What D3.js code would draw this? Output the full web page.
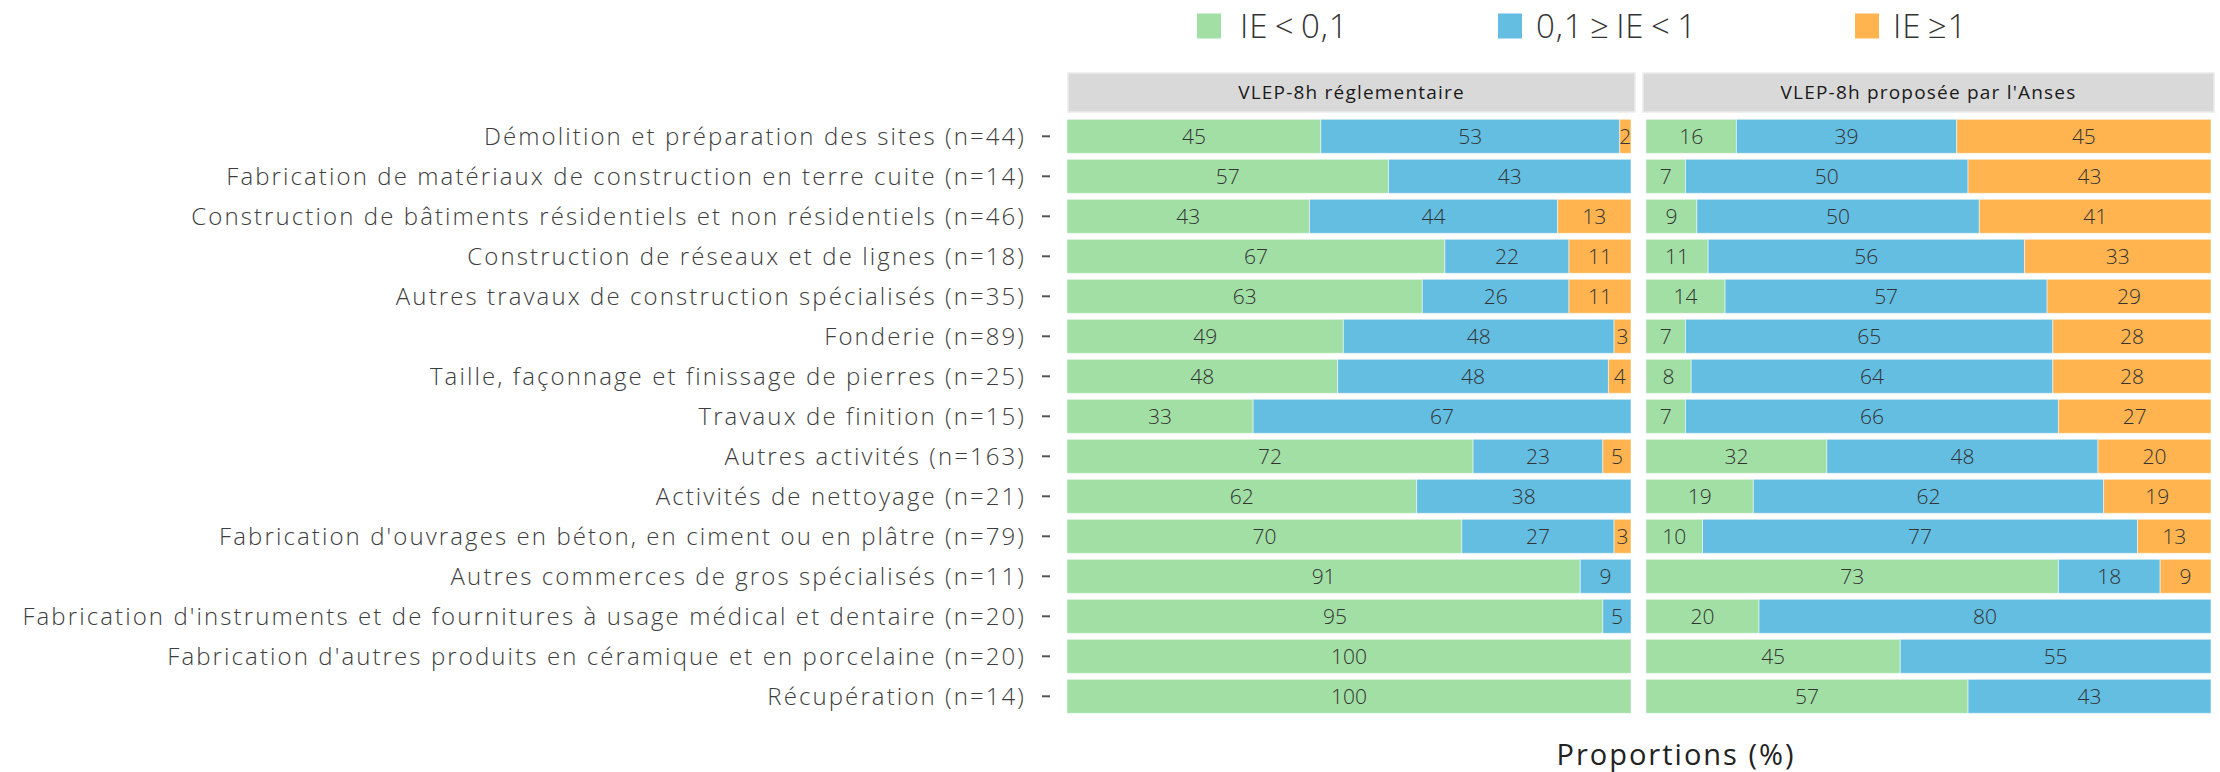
<!DOCTYPE html>
<html>
<head>
<meta charset="utf-8">
<script src="https://cdn.jsdelivr.net/npm/d3@7/dist/d3.min.js"></script>
<style>
  html, body { margin: 0; padding: 0; background: #ffffff; }
  svg { display: block; }
  text { font-family: "Open Sans", "Noto Sans", sans-serif; }
</style>
</head>
<body>
<svg id="chart" width="2220" height="772"></svg>
<script>
// ---- Data ----
const categories = [
  "Démolition et préparation des sites (n=44)",
  "Fabrication de matériaux de construction en terre cuite (n=14)",
  "Construction de bâtiments résidentiels et non résidentiels (n=46)",
  "Construction de réseaux et de lignes (n=18)",
  "Autres travaux de construction spécialisés (n=35)",
  "Fonderie (n=89)",
  "Taille, façonnage et finissage de pierres (n=25)",
  "Travaux de finition (n=15)",
  "Autres activités (n=163)",
  "Activités de nettoyage (n=21)",
  "Fabrication d'ouvrages en béton, en ciment ou en plâtre (n=79)",
  "Autres commerces de gros spécialisés (n=11)",
  "Fabrication d'instruments et de fournitures à usage médical et dentaire (n=20)",
  "Fabrication d'autres produits en céramique et en porcelaine (n=20)",
  "Récupération (n=14)"
];
const seriesNames = ["IE < 0,1", "0,1 ≥ IE < 1", "IE ≥1"];
const panelNames = ["VLEP-8h réglementaire", "VLEP-8h proposée par l'Anses"];

// Réglementaire: [IE<0.1, 0.1≥IE<1, IE≥1]
const lowReg  = [45, 57, 43, 67, 63, 49, 48, 33, 72, 62, 70, 91, 95, 100, 100];
const midReg  = [53, 43, 44, 22, 26, 48, 48, 67, 23, 38, 27,  9,  5,   0,   0];
const highReg = [ 2,  0, 13, 11, 11,  3,  4,  0,  5,  0,  3,  0,  0,   0,   0];
// Proposée par l'Anses
const lowAns  = [16,  7,  9, 11, 14,  7,  8,  7, 32, 19, 10, 73, 20, 45, 57];
const midAns  = [39, 50, 50, 56, 57, 65, 64, 66, 48, 62, 77, 18, 80, 55, 43];
const highAns = [45, 43, 41, 33, 29, 28, 28, 27, 20, 19, 13,  9,  0,  0,  0];

const xTitle = "Proportions (%)";

// ---- Styles ----
const colors = ["#a1dfa5", "#63bee2", "#ffb450"];

const svg = d3.select("#chart");

const y = d3.scaleBand()
  .domain(categories)
  .range([116.3, 716.3])
  .paddingInner(0.15)
  .paddingOuter(0.075);

const panels = [
  { name: panelNames[0], data: [lowReg, midReg, highReg], x: d3.scaleLinear().domain([0, 100]).range([1067, 1631]), strip: [1068, 1635] },
  { name: panelNames[1], data: [lowAns, midAns, highAns], x: d3.scaleLinear().domain([0, 100]).range([1646, 2211]), strip: [1643, 2214] }
];

const stack = d3.stack().keys([0, 1, 2]);

panels.forEach(p => {
  const rows = categories.map((c, i) => ({ cat: c, 0: p.data[0][i], 1: p.data[1][i], 2: p.data[2][i] }));
  const stacked = stack(rows);

  // strip
  svg.append("rect")
    .attr("x", p.strip[0]).attr("y", 73)
    .attr("width", p.strip[1] - p.strip[0]).attr("height", 39)
    .attr("fill", "#d9d9d9").attr("stroke", "#ebebeb").attr("stroke-width", 1.5);
  svg.append("text")
    .attr("x", (p.strip[0] + p.strip[1]) / 2).attr("y", 92.5)
    .attr("text-anchor", "middle").attr("dy", "0.35em")
    .attr("font-size", 19).attr("fill", "#1a1a1a")
    .attr("letter-spacing", 1.2)
    .text(p.name);

  const g = svg.append("g");
  stacked.forEach((layer, k) => {
    g.selectAll(null).data(layer).enter()
      .append("rect")
      .attr("x", d => p.x(d[0]))
      .attr("y", d => y(d.data.cat))
      .attr("width", d => p.x(d[1]) - p.x(d[0]))
      .attr("height", y.bandwidth())
      .attr("fill", colors[k])
      .attr("stroke", "#ffffff").attr("stroke-opacity", 0.5).attr("stroke-width", 1);
  });
  stacked.forEach((layer, k) => {
    g.selectAll(null).data(layer.filter(d => d[1] - d[0] > 0)).enter()
      .append("text")
      .attr("x", d => p.x((d[0] + d[1]) / 2))
      .attr("y", d => y(d.data.cat) + y.bandwidth() / 2)
      .attr("dy", "0.36em")
      .attr("text-anchor", "middle")
      .attr("font-size", 21).attr("font-weight", 300)
      .attr("fill", "#333333")
      .text(d => d[1] - d[0]);
  });
});

// y axis labels and ticks
const yAxis = svg.append("g");
categories.forEach(c => {
  const cy = y(c) + y.bandwidth() / 2;
  yAxis.append("line")
    .attr("x1", 1042).attr("x2", 1050).attr("y1", cy).attr("y2", cy)
    .attr("stroke", "#555555").attr("stroke-width", 2);
  yAxis.append("text")
    .attr("x", 1026).attr("y", cy).attr("dy", "0.36em")
    .attr("text-anchor", "end")
    .attr("font-size", 24).attr("font-weight", 300)
    .attr("letter-spacing", 2.1)
    .attr("fill", "#3d3d3d")
    .text(c);
});

// x title
svg.append("text")
  .attr("x", 1676).attr("y", 765)
  .attr("text-anchor", "middle")
  .attr("font-size", 29).attr("fill", "#222222")
  .attr("letter-spacing", 2)
  .text(xTitle);

// legend
const legendKeys = [1197, 1498, 1855];
const legendTextX = [1240, 1536, 1893];
seriesNames.forEach((s, k) => {
  svg.append("rect")
    .attr("x", legendKeys[k]).attr("y", 13.5)
    .attr("width", 24).attr("height", 25)
    .attr("fill", colors[k]);
  svg.append("text")
    .attr("x", legendTextX[k]).attr("y", 37.5)
    .attr("font-size", 33).attr("font-weight", 300)
    .attr("letter-spacing", 0.9)
    .attr("word-spacing", -3)
    .attr("fill", "#333333")
    .text(s);
});
</script>
</body>
</html>
